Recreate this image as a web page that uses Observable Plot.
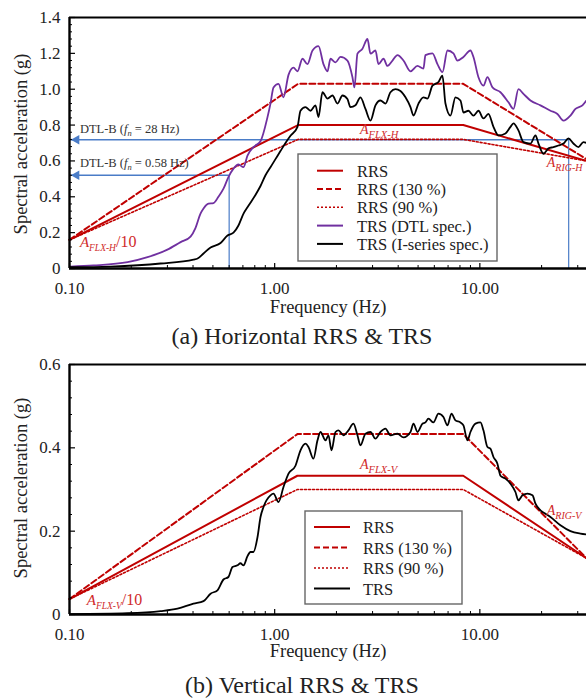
<!DOCTYPE html>
<html>
<head>
<meta charset="utf-8">
<script src="https://cdn.jsdelivr.net/npm/d3@7"></script>
<script src="https://cdn.jsdelivr.net/npm/@observablehq/plot@0.6"></script>
<style>
  html, body { margin: 0; padding: 0; background: #fff; }
  #wrap { width: 586px; height: 700px; overflow: hidden; }
  #wrap svg { display: block; }
  #wrap svg text { font-family: "Liberation Serif", "Times New Roman", serif; }
</style>
</head>
<body>
<div id="wrap"></div>
<script>
// ---------------- data ----------------
const xMajorTicks = [0.1, 1, 10];
const xTickLabels = ["0.10", "1.00", "10.00"];
const xMinorTicks = [0.2, 0.3, 0.4, 0.5, 0.6, 0.7, 0.8, 0.9, 2, 3, 4, 5, 6, 7, 8, 9, 20, 30];
const yTicksH = [0, 0.2, 0.4, 0.6, 0.8, 1.0, 1.2, 1.4];
const yTickLabelsH = ["0", "0.2", "0.4", "0.6", "0.8", "1.0", "1.2", "1.4"];
const yTicksV = [0, 0.2, 0.4, 0.6];
const yTickLabelsV = ["0", "0.2", "0.4", "0.6"];

// Required response spectra (horizontal)
const rrsFreqH = [0.1, 1.3, 8.3, 33.1];
const rrsH     = [0.16, 0.80, 0.80, 0.60];
const rrsH130  = [0.16, 1.03, 1.03, 0.61];
const rrsH90   = [0.16, 0.72, 0.72, 0.60];

// Required response spectra (vertical)
const rrsFreqV = [0.1, 1.29, 8.3, 33.1];
const rrsV     = [0.037, 0.333, 0.333, 0.135];
const rrsV130  = [0.037, 0.433, 0.433, 0.135];
const rrsV90   = [0.037, 0.30, 0.30, 0.135];

// TRS (DTL spec.) horizontal
const freqDTL = [0.101,0.131,0.192,0.240,0.300,0.348,0.389,0.411,0.435,0.450,0.476,0.503,0.532,0.563,0.595,0.630,0.666,0.705,0.737,0.788,0.853,0.922,0.954,0.987,1.044,1.104,1.168,1.235,1.292,1.366,1.445,1.529,1.635,1.729,1.809,1.871,1.979,2.093,2.263,2.394,2.448,2.532,2.678,2.833,2.931,3.099,3.205,3.391,3.546,3.751,3.967,4.244,4.591,4.966,5.310,5.431,5.875,6.214,6.572,6.952,7.435,7.776,8.319,8.999,9.307,9.845,10.41,10.89,11.52,12.60,13.79,14.58,15.42,16.31,17.65,19.74,22.09,23.89,25.55,27.64,29.24,31.62,33.07];
const accDTL  = [0.011,0.017,0.035,0.063,0.105,0.147,0.178,0.225,0.306,0.335,0.362,0.365,0.40,0.445,0.51,0.557,0.58,0.565,0.63,0.677,0.71,0.843,0.92,1.01,1.03,0.955,1.08,1.12,1.10,1.17,1.14,1.216,1.24,1.14,1.10,1.17,1.15,1.18,1.16,1.067,1.01,1.198,1.226,1.28,1.198,1.216,1.14,1.17,1.13,1.16,1.19,1.16,1.10,1.13,1.115,1.19,1.20,1.14,1.095,1.216,1.20,1.16,1.18,1.216,1.18,1.067,1.02,1.067,1.01,0.983,0.927,0.89,1.0,0.974,0.937,0.91,0.88,0.862,0.825,0.853,0.89,0.91,0.937];

// TRS (I-series spec.) horizontal
const freqIH = [0.101,0.158,0.278,0.402,0.421,0.450,0.487,0.545,0.589,0.630,0.666,0.705,0.745,0.806,0.853,0.902,0.954,1.009,1.067,1.129,1.194,1.292,1.336,1.413,1.495,1.581,1.635,1.710,1.809,1.913,2.023,2.140,2.263,2.341,2.476,2.618,2.770,2.931,3.099,3.278,3.467,3.667,3.879,4.103,4.341,4.591,4.748,5.022,5.310,5.554,5.875,6.283,6.572,6.798,7.190,7.604,8.044,8.319,8.799,9.307,9.845,10.41,11.01,11.65,12.32,13.33,14.10,14.58,15.42,16.31,17.65,18.67,19.31,20.42,21.60,22.84,24.15,25.55,27.03,28.58,30.24,31.98,33.07];
const accIH  = [0.007,0.011,0.028,0.05,0.056,0.084,0.117,0.142,0.184,0.20,0.24,0.306,0.35,0.41,0.46,0.52,0.565,0.61,0.655,0.70,0.74,0.79,0.88,0.90,0.88,0.91,0.845,0.983,0.948,0.965,0.92,0.965,0.945,0.90,0.91,0.955,0.89,0.825,0.91,0.937,0.92,0.983,1.0,0.99,0.955,0.90,0.853,0.92,0.955,0.948,1.02,1.04,1.076,0.92,0.853,0.955,0.937,0.87,0.88,0.853,0.88,0.837,0.862,0.79,0.742,0.753,0.79,0.81,0.77,0.705,0.697,0.742,0.697,0.64,0.67,0.677,0.686,0.697,0.725,0.697,0.677,0.705,0.70];

// TRS vertical
const freqV = [0.101,0.192,0.278,0.336,0.402,0.450,0.487,0.526,0.563,0.595,0.623,0.659,0.681,0.705,0.737,0.762,0.788,0.825,0.853,0.882,0.954,0.987,1.044,1.104,1.168,1.263,1.336,1.413,1.461,1.545,1.617,1.672,1.769,1.829,1.892,1.979,2.046,2.164,2.289,2.421,2.532,2.618,2.770,2.931,3.099,3.278,3.467,3.667,3.967,4.244,4.591,4.748,4.966,5.252,5.431,5.616,5.941,6.283,6.646,6.952,7.271,7.604,8.044,8.319,8.700,8.999,9.520,10.07,10.41,10.89,11.26,11.65,12.18,12.60,13.33,14.10,14.91,15.42,16.13,17.06,18.05,18.67,19.74,20.88,22.09,24.71,27.64,30.93,33.07];
const accV  = [0.001,0.003,0.008,0.014,0.026,0.032,0.05,0.058,0.084,0.09,0.114,0.118,0.123,0.118,0.14,0.15,0.15,0.186,0.234,0.258,0.286,0.29,0.27,0.306,0.338,0.357,0.394,0.41,0.402,0.374,0.418,0.438,0.418,0.43,0.394,0.438,0.442,0.43,0.442,0.458,0.43,0.406,0.434,0.438,0.422,0.438,0.446,0.43,0.434,0.425,0.438,0.458,0.438,0.458,0.461,0.47,0.461,0.482,0.474,0.454,0.482,0.466,0.461,0.454,0.418,0.438,0.458,0.461,0.442,0.402,0.398,0.378,0.362,0.333,0.326,0.314,0.294,0.274,0.286,0.29,0.286,0.266,0.25,0.242,0.234,0.214,0.20,0.194,0.192];

// DTL-B natural frequencies and their TRS readings
const dtlFreq = [27.1, 0.60];
const dtlAcc  = [0.718, 0.52];
const dtlNames = ["28", "0.58"];

// ---------------- style ----------------
const FONT = "Liberation Serif, Times New Roman, serif";
const RED = "#c00000", RED_TXT = "#d02a2a", PURPLE = "#7030a0", BLUE = "#4a7cc7", INK = "#222";

const rowsOf = (fs, vs) => fs.map((f, i) => ({f, v: vs[i]}));

function richText(g, x, y, parts, {size = 15, subSize = 10, subShift = 4, fill = INK, anchor = "start"} = {}) {
  const t = g.append("text").attr("x", x).attr("y", y).attr("fill", fill)
    .attr("font-family", FONT).attr("font-size", size).attr("text-anchor", anchor);
  let shift = 0;
  for (const p of parts) {
    const ts = t.append("tspan").text(p.t);
    if (p.italic) ts.attr("font-style", "italic");
    if (p.size) ts.attr("font-size", p.size);
    const target = p.sub ? subShift : 0;
    if (target !== shift) { ts.attr("dy", target - shift); shift = target; }
    if (p.sub) ts.attr("font-size", subSize);
  }
  return t;
}

function label(g, x, y, text, size, anchor = "middle", transform = null) {
  const t = g.append("text").attr("font-family", FONT).attr("font-size", size)
    .attr("fill", INK).attr("text-anchor", anchor).text(text);
  if (transform) t.attr("transform", transform); else t.attr("x", x).attr("y", y);
  return t;
}

function overlay(draw) {
  return (index, scales, values, dimensions) => {
    const g = d3.create("svg:g").attr("font-family", FONT).attr("text-anchor", "start");
    draw(g, scales, dimensions);
    return g.node();
  };
}

function legend(g, box, rowY0, rowStep, sx1, sx2, tx, items) {
  g.append("rect").attr("x", box[0]).attr("y", box[1]).attr("width", box[2]).attr("height", box[3])
    .attr("fill", "#fff").attr("stroke", "#666").attr("stroke-width", 1.4);
  items.forEach((it, i) => {
    const y = rowY0 + i * rowStep;
    g.append("line").attr("x1", sx1).attr("x2", sx2).attr("y1", y).attr("y2", y)
      .attr("stroke", it.stroke).attr("stroke-width", it.width || 2)
      .attr("stroke-dasharray", it.dash || null);
    label(g, tx, y + 6, it.label, 16.5, "start");
  });
}

function axes(yTicks, yLabels, yMax) {
  const yMinor = d3.range(0, yMax + 1e-9, 0.04).map(d => +d.toFixed(2)).filter(d => !yTicks.some(t => Math.abs(t - d) < 1e-6));
  return [
    Plot.axisY(yTicks, {anchor: "left", tickSize: 6, dx: 6, tickFormat: () => "", label: null, strokeWidth: 1.2}),
    Plot.axisY(yMinor, {anchor: "left", tickSize: 3, dx: 3, tickFormat: () => "", label: null, strokeWidth: 1}),
    Plot.axisY(yTicks, {anchor: "left", tickSize: 0, tickPadding: 9, label: null, fontSize: 17, fontFamily: FONT, fill: INK,
      tickFormat: d => yLabels[yTicks.findIndex(t => Math.abs(t - d) < 1e-9)]}),
    Plot.axisX(xMajorTicks, {anchor: "bottom", tickSize: 5, dy: -5, tickFormat: () => "", label: null, strokeWidth: 1.2}),
    Plot.axisX(xMinorTicks, {anchor: "bottom", tickSize: 3, dy: -3, tickFormat: () => "", label: null, strokeWidth: 1}),
    Plot.axisX(xMajorTicks, {anchor: "bottom", tickSize: 0, tickPadding: 13, label: null, fontSize: 17, fontFamily: FONT, fill: INK,
      tickFormat: d => xTickLabels[xMajorTicks.findIndex(t => Math.abs(t - d) < 1e-9)]})
  ];
}

function frame(yMax) {
  return [
    Plot.ruleX([0.1], {stroke: "#000", strokeWidth: 2.4}),
    Plot.ruleY([0], {stroke: "#000", strokeWidth: 2.6}),
    Plot.ruleY([yMax], {stroke: "#000", strokeWidth: 2})
  ];
}

const sub = (t) => ({t, italic: true, sub: true});
const A = {t: "A", italic: true};

const annotationsH = [
  {f: 0.113, v: 0.753, parts: [{t: "DTL-B ("}, {t: "f", italic: true}, sub("n"), {t: " = 28 Hz)"}], size: 12.5, subSize: 8.5, subShift: 3, fill: "#333"},
  {f: 0.113, v: 0.563, parts: [{t: "DTL-B ("}, {t: "f", italic: true}, sub("n"), {t: " = 0.58 Hz)"}], size: 12.5, subSize: 8.5, subShift: 3, fill: "#333"},
  {f: 2.62, v: 0.75, parts: [A, sub("FLX-H")], size: 14, subSize: 10.5, fill: RED_TXT},
  {f: 21.3, v: 0.562, parts: [A, sub("RIG-H")], size: 14, subSize: 10, fill: RED_TXT},
  {f: 0.113, v: 0.117, parts: [A, sub("FLX-H"), {t: "/10", size: 16}], size: 15, subSize: 9.5, fill: RED_TXT}
];

const annotationsV = [
  {f: 0.122, v: 0.0216, parts: [A, sub("FLX-V"), {t: "/10", size: 16}], size: 15, subSize: 9.5, fill: RED_TXT},
  {f: 2.62, v: 0.349, parts: [A, sub("FLX-V")], size: 14, subSize: 10.5, fill: RED_TXT},
  {f: 21.3, v: 0.2376, parts: [A, sub("RIG-V")], size: 14, subSize: 10, fill: RED_TXT}
];

function annotate(list) {
  return overlay((g, s) => {
    for (const a of list) richText(g, s.x(a.f), s.y(a.v), a.parts, a);
  });
}

const plotStyle = "font-family: 'Liberation Serif', 'Times New Roman', serif; font-size: 17px; color: #000; background: #fff; overflow: visible;";

// ---------------- (a) Horizontal ----------------
const dtlRows = dtlFreq.map((f, i) => ({f, v: dtlAcc[i], name: dtlNames[i]}));

const topPlot = Plot.plot({
  width: 586, height: 350,
  marginTop: 17, marginBottom: 82, marginLeft: 69, marginRight: 0,
  x: {type: "log", domain: [0.1, 33.1]},
  y: {domain: [0, 1.4]},
  style: plotStyle,
  marks: [
    Plot.ruleY(dtlRows, {x1: 0.1, x2: "f", y: "v", stroke: BLUE, strokeWidth: 1.6}),
    Plot.ruleX(dtlRows, {x: "f", y1: 0, y2: "v", stroke: BLUE, strokeWidth: 1.2}),
    Plot.dot(dtlRows, {x: 0.1, y: "v", symbol: "triangle", rotate: -90, r: 3.6, fill: BLUE, stroke: "none", dx: 7}),
    Plot.line(rowsOf(rrsFreqH, rrsH90), {x: "f", y: "v", stroke: RED, strokeWidth: 1.6, strokeDasharray: "2,2"}),
    Plot.line(rowsOf(rrsFreqH, rrsH130), {x: "f", y: "v", stroke: RED, strokeWidth: 2, strokeDasharray: "6,3"}),
    Plot.line(rowsOf(rrsFreqH, rrsH), {x: "f", y: "v", stroke: RED, strokeWidth: 2}),
    Plot.line(rowsOf(freqDTL, accDTL), {x: "f", y: "v", stroke: PURPLE, strokeWidth: 1.8, curve: "monotone-x"}),
    Plot.line(rowsOf(freqIH, accIH), {x: "f", y: "v", stroke: "#000", strokeWidth: 1.8, curve: "monotone-x"}),
    annotate(annotationsH),
    overlay(g => legend(g, [298, 154, 199, 107], 170.7, 18.3, 317, 343, 357, [
      {label: "RRS", stroke: RED},
      {label: "RRS (130 %)", stroke: RED, dash: "6,3"},
      {label: "RRS (90 %)", stroke: RED, dash: "2,2", width: 1.6},
      {label: "TRS (DTL spec.)", stroke: PURPLE},
      {label: "TRS (I-series spec.)", stroke: "#000"}
    ])),
    ...axes(yTicksH, yTickLabelsH, 1.4),
    ...frame(1.4),
    overlay(g => {
      label(g, 328, 313, "Frequency (Hz)", 18.5);
      label(g, 0, 0, "Spectral acceleration (g)", 18.5, "middle", "translate(26.5,144) rotate(-90)");
      label(g, 302, 343.5, "(a) Horizontal RRS & TRS", 24);
    })
  ]
});

// ---------------- (b) Vertical ----------------
const bottomPlot = Plot.plot({
  width: 586, height: 350,
  marginTop: 14, marginBottom: 86, marginLeft: 69, marginRight: 0,
  x: {type: "log", domain: [0.1, 33.1]},
  y: {domain: [0, 0.6]},
  style: plotStyle,
  marks: [
    Plot.line(rowsOf(rrsFreqV, rrsV90), {x: "f", y: "v", stroke: RED, strokeWidth: 1.6, strokeDasharray: "2,2"}),
    Plot.line(rowsOf(rrsFreqV, rrsV130), {x: "f", y: "v", stroke: RED, strokeWidth: 2, strokeDasharray: "6,3"}),
    Plot.line(rowsOf(rrsFreqV, rrsV), {x: "f", y: "v", stroke: RED, strokeWidth: 2}),
    Plot.line(rowsOf(freqV, accV), {x: "f", y: "v", stroke: "#000", strokeWidth: 1.8, curve: "monotone-x"}),
    annotate(annotationsV),
    overlay(g => legend(g, [305, 161, 157, 93], 177, 20.5, 314, 350, 363, [
      {label: "RRS", stroke: RED},
      {label: "RRS (130 %)", stroke: RED, dash: "6,3"},
      {label: "RRS (90 %)", stroke: RED, dash: "2,2", width: 1.6},
      {label: "TRS", stroke: "#000"}
    ])),
    ...axes(yTicksV, yTickLabelsV, 0.6),
    ...frame(0.6),
    overlay(g => {
      label(g, 328, 307, "Frequency (Hz)", 18.5);
      label(g, 0, 0, "Spectral acceleration (g)", 18.5, "middle", "translate(26.5,138) rotate(-90)");
      label(g, 302, 342.5, "(b) Vertical RRS & TRS", 24);
    })
  ]
});

const wrap = document.getElementById("wrap");
wrap.appendChild(topPlot);
wrap.appendChild(bottomPlot);
</script>
</body>
</html>
